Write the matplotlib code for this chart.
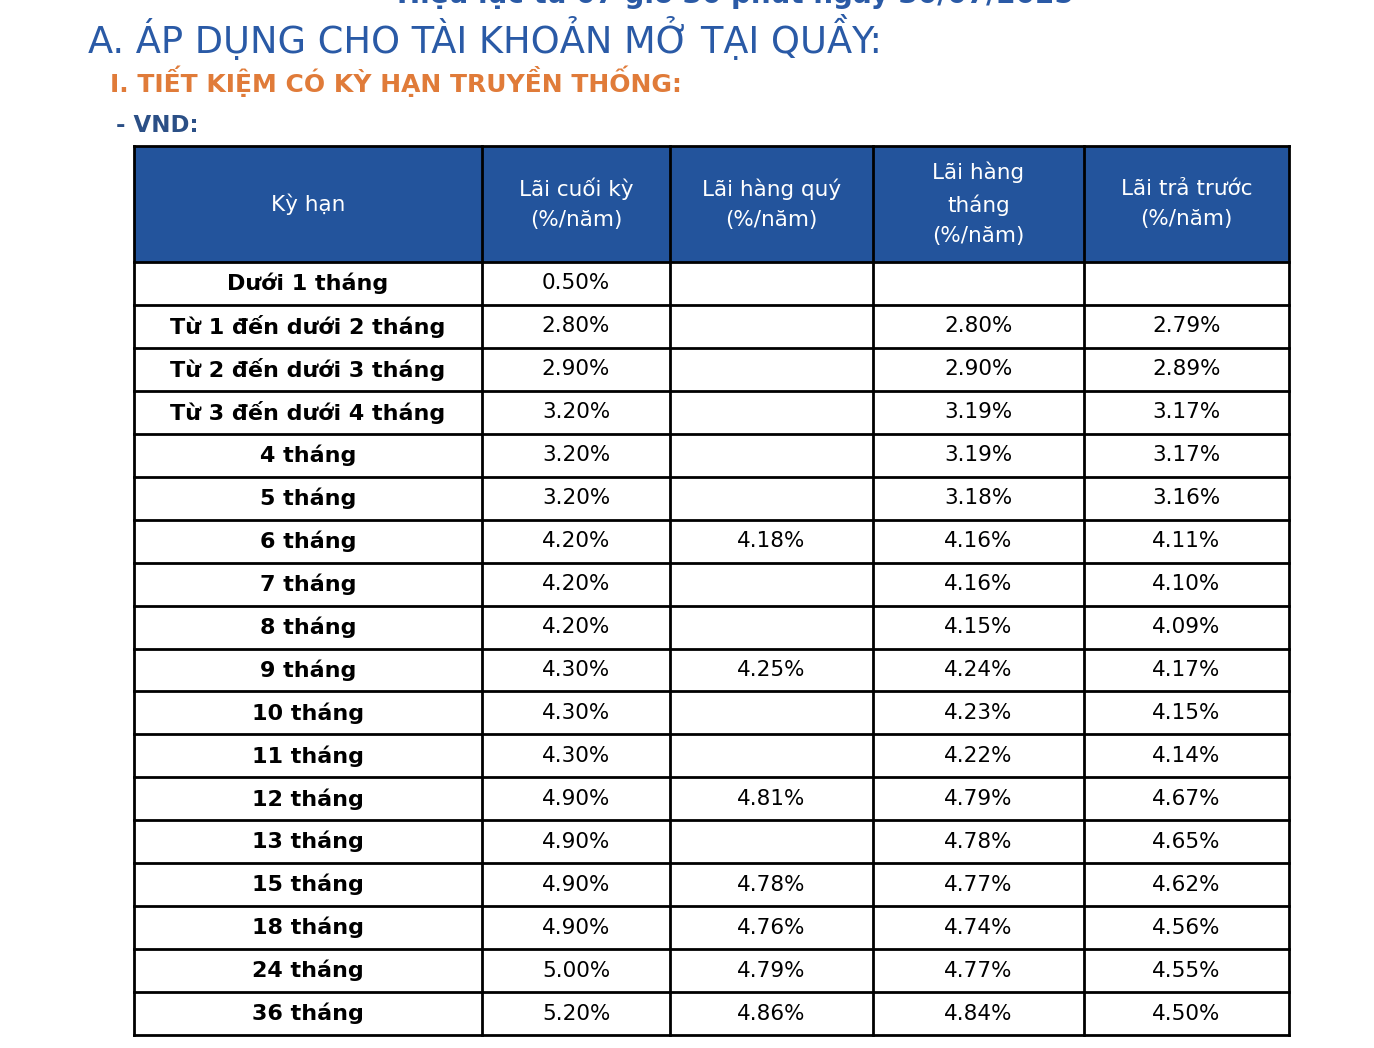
import matplotlib.pyplot as plt
from matplotlib.patches import Rectangle

plt.rcParams['font.family'] = ['DejaVu Sans']

headers = ['Kỳ hạn', 'Lãi cuối kỳ\n(%/năm)', 'Lãi hàng quý\n(%/năm)',
           'Lãi hàng\ntháng\n(%/năm)', 'Lãi trả trước\n(%/năm)']
terms = ['Dưới 1 tháng', 'Từ 1 đến dưới 2 tháng', 'Từ 2 đến dưới 3 tháng',
         'Từ 3 đến dưới 4 tháng', '4 tháng', '5 tháng', '6 tháng', '7 tháng',
         '8 tháng', '9 tháng', '10 tháng', '11 tháng', '12 tháng', '13 tháng',
         '15 tháng', '18 tháng', '24 tháng', '36 tháng']
cuoi_ky = ['0.50%', '2.80%', '2.90%', '3.20%', '3.20%', '3.20%', '4.20%', '4.20%',
           '4.20%', '4.30%', '4.30%', '4.30%', '4.90%', '4.90%', '4.90%', '4.90%',
           '5.00%', '5.20%']
hang_quy = ['', '', '', '', '', '', '4.18%', '', '', '4.25%', '', '', '4.81%', '',
            '4.78%', '4.76%', '4.79%', '4.86%']
hang_thang = ['', '2.80%', '2.90%', '3.19%', '3.19%', '3.18%', '4.16%', '4.16%',
              '4.15%', '4.24%', '4.23%', '4.22%', '4.79%', '4.78%', '4.77%', '4.74%',
              '4.77%', '4.84%']
tra_truoc = ['', '2.79%', '2.89%', '3.17%', '3.17%', '3.16%', '4.11%', '4.10%',
             '4.09%', '4.17%', '4.15%', '4.14%', '4.67%', '4.65%', '4.62%', '4.56%',
             '4.55%', '4.50%']

cols = [terms, cuoi_ky, hang_quy, hang_thang, tra_truoc]
edges = [134, 482, 670, 873, 1084, 1289]
head_top, head_bot, table_bot = 146, 262, 1035
row_h = (table_bot - head_bot) / len(terms)

fig = plt.figure(figsize=(13.74, 10.48), dpi=100)
ax = fig.add_axes([0, 0, 1, 1])
ax.set_xlim(0, 1374)
ax.set_ylim(1048, 0)
ax.axis('off')

blue = '#2a5aa6'
ax.text(735, -6, 'Hiệu lực từ 07 giờ 30 phút ngày 30/07/2025', color=blue,
        fontsize=20, fontweight='bold', ha='center', va='center')
ax.text(88, 38, 'A. ÁP DỤNG CHO TÀI KHOẢN MỞ TẠI QUẦY:', color=blue,
        fontsize=26.5, ha='left', va='center')
ax.text(110, 81, 'I. TIẾT KIỆM CÓ KỲ HẠN TRUYỀN THỐNG:', color='#e07b39',
        fontsize=18, fontweight='bold', ha='left', va='center')
ax.text(116, 125, '- VND:', color='#2b4f86', fontsize=16.5, fontweight='bold',
        ha='left', va='center')

ax.add_patch(Rectangle((edges[0], head_top), edges[-1] - edges[0], head_bot - head_top,
                       facecolor='#23549c', edgecolor='none'))
for i, h in enumerate(headers):
    xc = (edges[i] + edges[i + 1]) / 2
    ax.text(xc, (head_top + head_bot) / 2, h, color='white', fontsize=15.5,
            ha='center', va='center', linespacing=1.65)

for j in range(len(terms)):
    yc = head_bot + (j + 0.5) * row_h
    for i, col in enumerate(cols):
        xc = (edges[i] + edges[i + 1]) / 2
        ax.text(xc, yc, col[j], color='black', fontsize=16 if i == 0 else 15.5,
                fontweight='bold' if i == 0 else 'normal', ha='center', va='center')

lw = 2
for x in edges:
    ax.plot([x, x], [head_top, table_bot], color='black', lw=lw)
ax.plot([edges[0], edges[-1]], [head_top, head_top], color='black', lw=lw)
for j in range(len(terms) + 1):
    y = head_bot + j * row_h
    ax.plot([edges[0], edges[-1]], [y, y], color='black', lw=lw)

fig.savefig('out.png', dpi=100)
